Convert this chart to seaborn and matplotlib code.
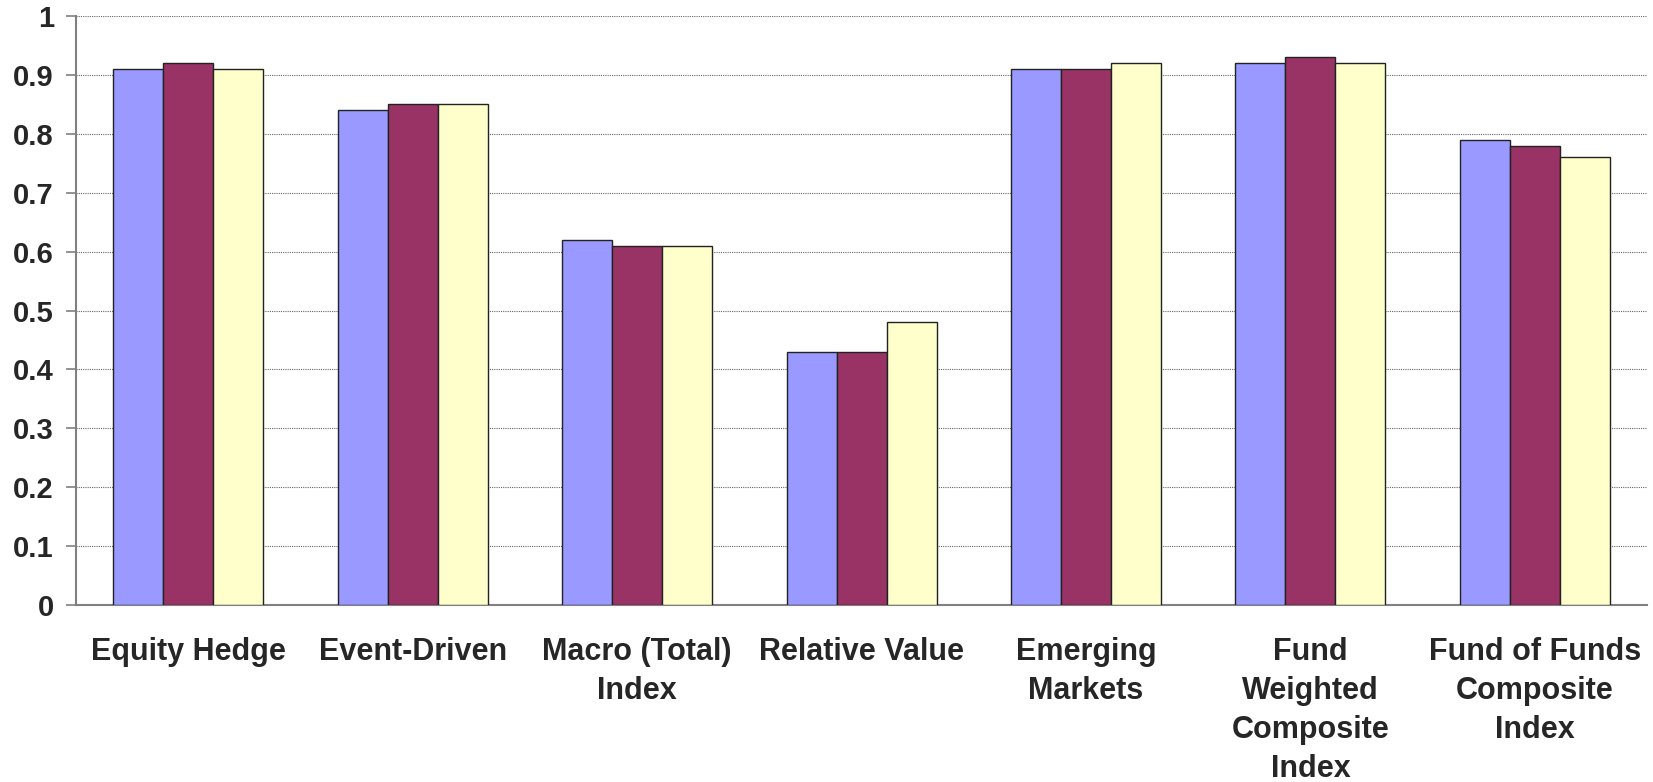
import numpy as np
import pandas as pd
import matplotlib
matplotlib.use("Agg")
import matplotlib.pyplot as plt
import seaborn as sns
from matplotlib.ticker import FixedLocator

categories = [
    "Equity Hedge",
    "Event-Driven",
    "Macro (Total)\nIndex",
    "Relative Value",
    "Emerging\nMarkets",
    "Fund\nWeighted\nComposite\nIndex",
    "Fund of Funds\nComposite\nIndex",
]
series_names = ["Series 1", "Series 2", "Series 3"]
series_1 = [0.91, 0.84, 0.62, 0.43, 0.91, 0.92, 0.79]
series_2 = [0.92, 0.85, 0.61, 0.43, 0.91, 0.93, 0.78]
series_3 = [0.91, 0.85, 0.61, 0.48, 0.92, 0.92, 0.76]
y_ticks = [0, 0.1, 0.2, 0.3, 0.4, 0.5, 0.6, 0.7, 0.8, 0.9, 1]
y_tick_labels = ["0", "0.1", "0.2", "0.3", "0.4", "0.5", "0.6", "0.7", "0.8", "0.9", "1"]

palette = ["#9999FF", "#993366", "#FFFFCC"]

df = pd.DataFrame({
    "category": categories * 3,
    "series": [s for s in series_names for _ in categories],
    "value": series_1 + series_2 + series_3,
})

sns.set_style("white")
plt.rcParams["font.family"] = ["Liberation Sans", "DejaVu Sans"]
plt.rcParams["font.weight"] = "bold"

fig = plt.figure(figsize=(16.53, 7.82), dpi=100)
ax = fig.add_axes([0.046, 0.2263, 0.9504, 0.7532])

sns.barplot(
    data=df, x="category", y="value", hue="series",
    order=categories, hue_order=series_names, palette=palette,
    width=0.668, edgecolor="#222222", linewidth=1.0, saturation=1,
    errorbar=None, legend=False, ax=ax, zorder=3,
)

ax.set_xlim(-0.5, len(categories) - 0.5)
ax.set_ylim(0, 1)
ax.set_yticks(y_ticks)
ax.set_yticklabels(y_tick_labels)
ax.grid(axis="y", linestyle=(0, (1, 1)), color="#666666", linewidth=0.8, zorder=0)
ax.grid(axis="x", visible=False)
ax.set_axisbelow(True)

for side in ("top", "right"):
    ax.spines[side].set_visible(False)
ax.spines["left"].set_color("#808080")
ax.spines["left"].set_linewidth(1.5)
ax.spines["bottom"].set_color("#808080")
ax.spines["bottom"].set_linewidth(1.5)

# category labels centred, separator ticks between categories
ax.tick_params(axis="x", which="major", length=0, pad=23, labelsize=22)
ax.xaxis.set_minor_locator(FixedLocator(np.arange(-0.5, len(categories), 1.0)))
ax.tick_params(axis="x", which="minor", length=7, width=1.2, color="#808080", direction="out")
for lbl in ax.get_xticklabels():
    lbl.set_fontweight("bold")
    lbl.set_linespacing(1.39)
    lbl.set_verticalalignment("top")

ax.tick_params(axis="y", which="major", length=7, width=1.2, color="#808080",
               direction="out", pad=9, labelsize=21, left=True)
for lbl in ax.get_yticklabels():
    lbl.set_fontweight("bold")

ax.set_xlabel("")
ax.set_ylabel("")

fig.savefig("out.png", dpi=100)
